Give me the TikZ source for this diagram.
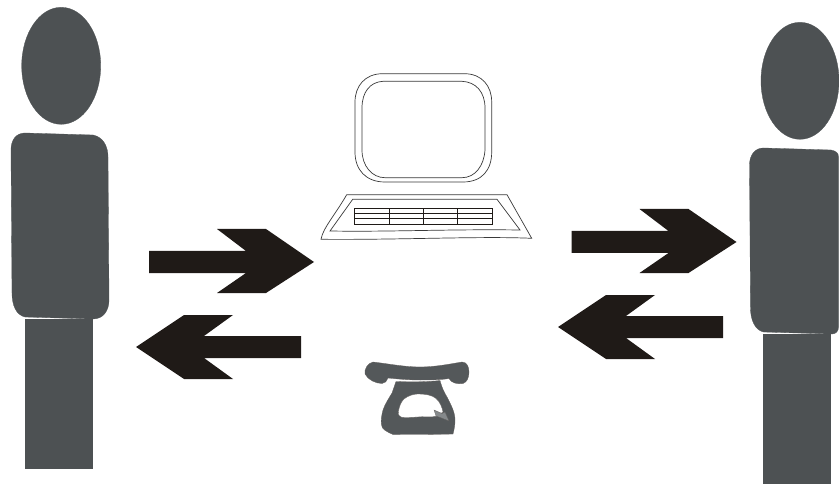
\documentclass[tikz,border=0pt]{standalone}
\usetikzlibrary{calc}
\definecolor{mangray}{HTML}{4D5153}
\definecolor{arrblack}{HTML}{1F1A17}
\definecolor{phonegray}{HTML}{54585A}
\definecolor{hookgray}{HTML}{85898B}
\definecolor{pcline}{HTML}{3A3A3A}
\tikzset{
  man/.style={fill=mangray, draw=mangray, line width=0.3pt},
  pcout/.style={draw=pcline, line width=0.7pt, fill=white},
  keyline/.style={draw=arrblack, line width=1pt},
  phonepart/.style={fill=phonegray, draw=arrblack!70, line width=0.3pt},
  bigarr/.style={fill=arrblack, draw=none},
  arrright/.pic={
    \fill[bigarr] (-165,-11) -- (-68,-11) -- (-97,-33) -- (-48,-33) -- (0,0) -- (-48,31) -- (-97,31) -- (-68,11) -- (-165,11) -- cycle;
  },
  arrleft/.pic={
    \fill[bigarr] (165,-11) -- (68,-11) -- (97,-32) -- (48,-32) -- (0,0) -- (48,32) -- (97,32) -- (68,11) -- (165,11) -- cycle;
  },
}

\begin{document}
\begin{tikzpicture}[x=1pt, y=-1pt]
    \useasboundingbox (0,0) rectangle (839,484);

    % left man
    \draw[man] (61.2,65.8) ellipse [x radius=39.5, y radius=58.5];
    \draw[man] (25,133) -- (93,135) .. controls (103,137) and (108,146) .. (108,157)
      -- (109,300) .. controls (109,311) and (103,319) .. (93,319)
      -- (25,317) .. controls (16,315) and (12,305) .. (12,293)
      -- (11,150) .. controls (11,140) and (16,133) .. (25,133) -- cycle;
    \draw[man] (25,319.5) rectangle (92,468);

    % right man
    \draw[man] (800,80.8) ellipse [x radius=39, y radius=58.5];
    \draw[man] (763.5,148) -- (831,150) .. controls (836,151) and (838.5,153) .. (838.5,157)
      -- (838.5,327) .. controls (838.5,331) and (836,334) .. (832,334)
      -- (763.5,332) .. controls (755,330) and (750.5,320) .. (750.5,308)
      -- (749.5,165) .. controls (749.5,155) and (755,148) .. (763.5,148) -- cycle;
    \draw[man] (763,334.5) rectangle (830.5,483);

    % computer
    \draw[pcout] (382,73.7) -- (465,73.7) .. controls (482,74) and (491.7,86) .. (491.7,102)
      -- (491.7,152) .. controls (491.7,170) and (482,182) .. (463,182)
      -- (385,182) .. controls (366,182) and (355,170) .. (355,152)
      -- (355,102) .. controls (355,86) and (365,74) .. (382,73.7) -- cycle;
    \draw[pcout] (383,81.3) -- (462,81.3) .. controls (476,82) and (485,92) .. (485,108)
      -- (485,150) .. controls (484,166) and (475,177.7) .. (462,177.7)
      -- (385,177.7) .. controls (372,177.7) and (362,166) .. (362,150)
      -- (362,108) .. controls (362,92) and (370,82) .. (383,81.3) -- cycle;
    \draw[pcout] (346.7,194.7) -- (507,194.7) -- (531.7,238.3)
      .. controls (480,236) and (400,240) .. (321,239.3)
      .. controls (323,228) and (335,215) .. (346.7,194.7) -- cycle;
    \draw[pcout] (352.7,199.3) -- (497,199.3) -- (520,230)
      .. controls (450,229) and (390,232) .. (330,231) -- cycle;
    \draw[keyline] (354.3,208.3) rectangle (492,224.3);
    \foreach \ky in {213.7,219}
      \draw[keyline] (354.3,\ky) -- (492,\ky);
    \foreach \kx in {389.3,423.3,457.7}
      \draw[keyline] (\kx,208.3) -- (\kx,224.3);

    % arrows
    \pic at (314,262) {arrright};
    \pic at (136,347) {arrleft};
    \pic at (736.5,242) {arrright};
    \pic at (558,327) {arrleft};

    % telephone
    \draw[phonepart] (373,362) .. controls (390,364) and (405,367) .. (420,367)
      .. controls (435,367) and (450,364) .. (462,362)
      .. controls (467,362) and (469,367) .. (469,372)
      .. controls (469,378) and (467,382) .. (463,383.5)
      .. controls (458,384.5) and (451,383) .. (449,378.5)
      .. controls (440,380) and (430,380) .. (420,380)
      .. controls (408,380) and (398,379) .. (388,378)
      .. controls (387,381) and (385,383.5) .. (382,383.5)
      .. controls (376,383.5) and (368,380) .. (365,374)
      .. controls (364,369) and (368,363) .. (373,362) -- cycle;
    \draw[phonepart] (396,381.5) .. controls (410,382) and (428,382) .. (440,380.5)
      .. controls (442,388) and (444,392) .. (447,397)
      .. controls (451,405) and (455,412) .. (455,420)
      .. controls (455,426) and (454,430) .. (453,434)
      .. controls (435,434.5) and (410,434.5) .. (393,434.5)
      .. controls (387,432) and (381.5,429) .. (381.5,425)
      .. controls (380.5,420) and (382,414) .. (383,410)
      .. controls (385,404) and (389,398) .. (392,393) -- cycle;
    \fill[white, draw=arrblack!70, line width=0.3pt] (418,394)
      .. controls (425,394) and (432,395) .. (436,398.5)
      .. controls (440,402) and (442,407) .. (443,412)
      -- (437,416) .. controls (430,418) and (424,416) .. (417,417)
      .. controls (411,417.5) and (404,418) .. (401,417)
      .. controls (398,415) and (397.5,413) .. (398.5,411)
      .. controls (399.5,406) and (401,402) .. (404,399)
      .. controls (408,396) and (413,394) .. (418,394) -- cycle;
    \draw[fill=hookgray, draw=arrblack!70, line width=0.3pt] (434,410) -- (442,413.5) -- (445,412)
      -- (449,421) -- (439,417) -- (436,416) -- cycle;
\end{tikzpicture}
\end{document}
